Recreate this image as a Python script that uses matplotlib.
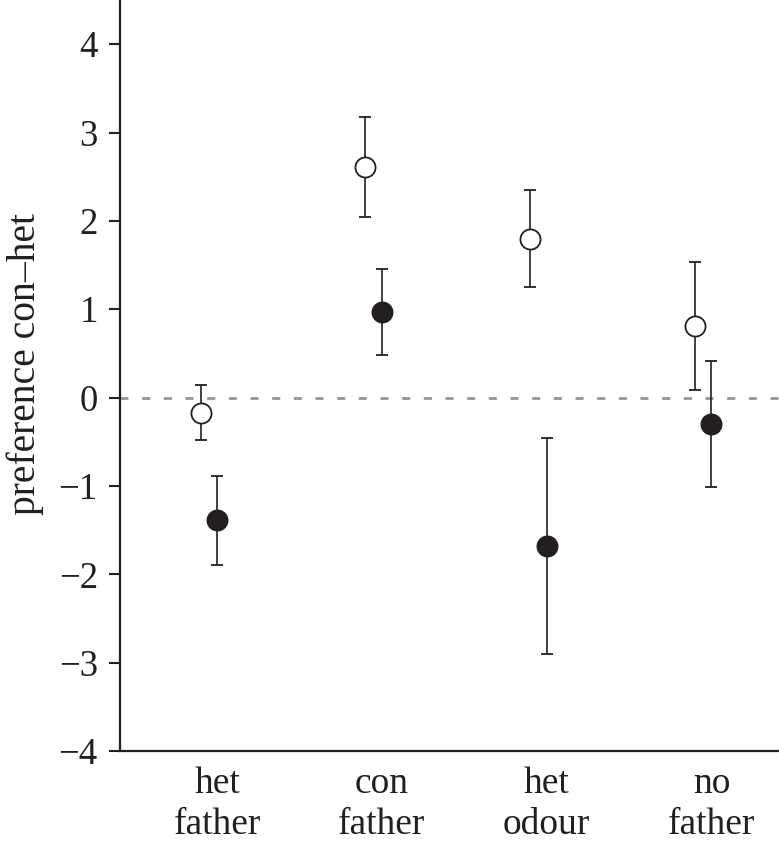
import matplotlib
matplotlib.use("Agg")
import matplotlib.pyplot as plt
import numpy as np

# data
categories = ["het\nfather", "con\nfather", "het\nodour", "no\nfather"]
open_mean = [-0.17, 2.61, 1.80, 0.81]
open_err = [0.31, 0.57, 0.545, 0.72]
filled_mean = [-1.39, 0.97, -1.68, -0.30]
filled_err = [0.50, 0.49, 1.22, 0.717]

ink = "#231f20"
plt.rcParams['font.family'] = ['Liberation Serif', 'DejaVu Serif']
plt.rcParams['lines.scale_dashes'] = False

fig = plt.figure(figsize=(7.79, 8.42), dpi=100)
ax = fig.add_axes([120 / 779, 91 / 842, 659 / 779, 751 / 842])

x = np.arange(1, len(categories) + 1)

ax.axhline(0, color="#939598", lw=2.0, dashes=(5.8, 9.8), zorder=1)

ax.errorbar(x - 0.1, open_mean, yerr=open_err, fmt='o', ms=14.5,
            mfc='white', mec=ink, mew=1.3, ecolor=ink, elinewidth=1.2,
            capsize=4.3, capthick=1.2, zorder=3)
ax.errorbar(x, filled_mean, yerr=filled_err, fmt='o', ms=14.5,
            mfc=ink, mec=ink, mew=1.3, ecolor=ink, elinewidth=1.2,
            capsize=4.3, capthick=1.2, zorder=3)

ax.set_xlim(0.41, 4.41)
ax.set_ylim(-4, 4.5)
ax.set_yticks(range(-4, 5))
ax.set_xticks(x)
ax.set_xticklabels(categories, fontsize=27, linespacing=1.25)
ax.tick_params(axis='x', length=0, pad=11)
ax.tick_params(axis='y', direction='out', length=8, width=1.5, color=ink,
               labelsize=26.5, pad=8, labelcolor=ink)
for lab in ax.get_xticklabels():
    lab.set_color(ink)

ax.spines['top'].set_visible(False)
ax.spines['right'].set_visible(False)
for s in ['left', 'bottom']:
    ax.spines[s].set_linewidth(1.6)
    ax.spines[s].set_color(ink)

ax.set_ylabel("preference con\u2013het", fontsize=28.5, color=ink)
ax.yaxis.set_label_coords(-0.116, 0.515)

fig.savefig("out.png", dpi=100)
